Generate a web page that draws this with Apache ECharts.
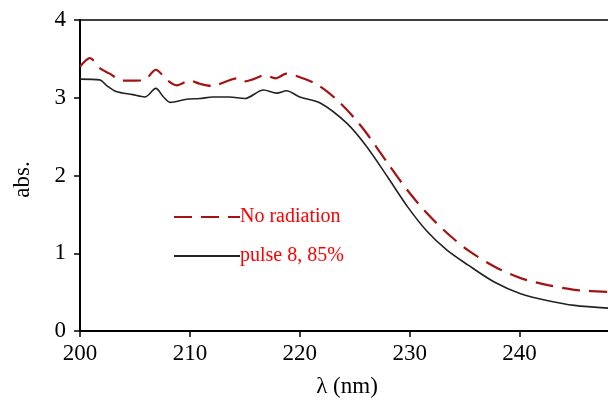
<!DOCTYPE html>
<html>
<head>
<meta charset="utf-8">
<script src="https://cdn.jsdelivr.net/npm/echarts@6/dist/echarts.min.js"></script>
<style>
  html, body { margin: 0; padding: 0; background: #fff; }
  #chart { width: 608px; height: 405px; }
</style>
</head>
<body>
<div id="chart"></div>
<script>
// wavelength (nm) and absorbance
const noRadWl = [200, 200.9, 201.8, 202.7, 203.9, 205.1, 205.9, 206.9, 207.9, 208.8, 210.0, 210.9, 212.1, 213.3, 214.3, 215.0, 215.8, 216.8, 217.8, 218.8, 219.7, 221.3, 222.5, 223.7, 224.9, 226.1, 228.0, 229.8, 231.6, 233.4, 235.3, 237.7, 240.1, 242.6, 245.0, 248.5];
const noRadAbs = [3.40, 3.51, 3.38, 3.31, 3.22, 3.22, 3.23, 3.36, 3.23, 3.16, 3.22, 3.18, 3.15, 3.21, 3.25, 3.21, 3.24, 3.29, 3.25, 3.31, 3.28, 3.19, 3.08, 2.93, 2.75, 2.54, 2.16, 1.81, 1.51, 1.26, 1.04, 0.83, 0.68, 0.59, 0.53, 0.50];

const pulseWl = [200, 201.8, 202.4, 203.3, 204.8, 205.9, 206.9, 207.6, 208.2, 209.7, 210.9, 212.1, 213.6, 215.0, 216.7, 217.9, 218.8, 220.0, 221.9, 224.3, 226.1, 228.0, 229.8, 231.6, 233.4, 235.3, 237.7, 240.1, 242.6, 245.0, 248.5];
const pulseAbs = [3.24, 3.23, 3.16, 3.08, 3.04, 3.01, 3.12, 3.01, 2.94, 2.98, 2.99, 3.01, 3.01, 2.99, 3.10, 3.06, 3.09, 3.01, 2.93, 2.67, 2.37, 1.98, 1.60, 1.28, 1.04, 0.85, 0.63, 0.48, 0.39, 0.33, 0.29];

const seriesNames = ['No radiation', 'pulse 8, 85%'];

const font = 'Liberation Serif, Times New Roman, serif';
const chart = echarts.init(document.getElementById('chart'));

chart.setOption({
  animation: false,
  grid: {
    left: 80, top: 20, right: -6, bottom: 74,
    outerBoundsMode: 'none',
    show: true, borderColor: '#000', borderWidth: 1.5
  },
  legend: {
    orient: 'vertical',
    left: 168, top: 202,
    itemWidth: 66, itemHeight: 12, itemGap: 19,
    itemStyle: { opacity: 0 },
    textStyle: { color: '#ff0000', fontFamily: font, fontSize: 20, padding: [0, 0, 0, -5] },
    data: seriesNames
  },
  xAxis: {
    type: 'value', min: 200, max: 248.6, interval: 10,
    name: 'λ (nm)', nameLocation: 'middle', nameGap: 44,
    nameTextStyle: { color: '#000', fontFamily: font, fontSize: 23 },
    axisLine: { lineStyle: { color: '#000', width: 2 } },
    axisTick: { show: true, length: 6, lineStyle: { color: '#000', width: 1.5 } },
    axisLabel: { color: '#000', fontFamily: font, fontSize: 23, margin: 11, showMaxLabel: false },
    splitLine: { show: false }
  },
  yAxis: {
    type: 'value', min: 0, max: 4, interval: 1,
    name: 'abs.', nameLocation: 'middle', nameGap: 46,
    nameTextStyle: { color: '#000', fontFamily: font, fontSize: 23, padding: [0, 8, 0, 0] },
    axisLine: { show: true, lineStyle: { color: '#000', width: 2 } },
    axisTick: { show: true, length: 6, lineStyle: { color: '#000', width: 1.5 } },
    axisLabel: { color: '#000', fontFamily: font, fontSize: 23, margin: 14 },
    splitLine: { show: false }
  },
  series: [
    {
      name: seriesNames[0], type: 'line', smooth: 0.3, symbol: 'none',
      data: noRadWl.map((w, i) => [w, noRadAbs[i]]),
      itemStyle: { color: '#a51212' },
      lineStyle: { color: '#a51212', width: 2.2, type: [18, 9] }
    },
    {
      name: seriesNames[1], type: 'line', smooth: 0.3, symbol: 'none',
      data: pulseWl.map((w, i) => [w, pulseAbs[i]]),
      itemStyle: { color: '#222' },
      lineStyle: { color: '#222', width: 1.6 }
    }
  ]
});
</script>
</body>
</html>
